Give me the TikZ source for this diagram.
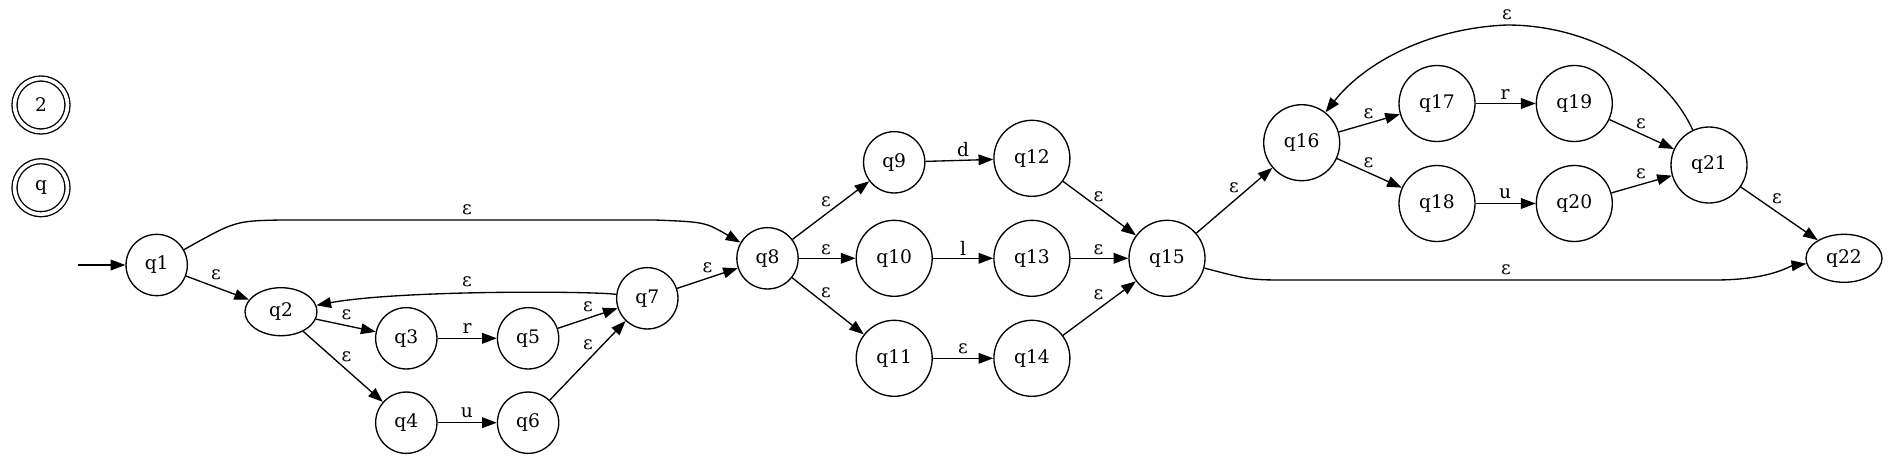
\documentclass[tikz,border=0pt]{standalone}
\usepackage{fontspec}
\setmainfont{DejaVu Serif}
\usetikzlibrary{arrows.meta,shapes.geometric}
\begin{document}
\begin{tikzpicture}[x = 0.75pt, y = -0.75pt,
  every node/.style = {font = \fontsize{14}{16}\selectfont},
  st/.style = {circle, draw = black, line width = 1pt, inner sep = 0pt, minimum size = 46pt},
  bigst/.style = {st, minimum size = 57pt},
  oval/.style = {ellipse, draw = black, line width = 1pt, inner sep = 0pt, minimum width = 54pt, minimum height = 36pt},
  final/.style = {circle, draw = black, line width = 1pt, double, double distance = 2.75pt, inner sep = 0pt, minimum size = 39.75pt},
  trans/.style = {draw = black, line width = 1pt, -{Triangle[length = 11pt, width = 8pt]}},
  lbl/.style = {inner sep = 0pt}]
\fill[white] (0,0) rectangle (1888,458);
\node[final] (f2) at (41,105) {2};
\node[final] (fq) at (41,187.7) {q};
\coordinate (init) at (77.7,265);
\foreach \n/\x/\y in {1/156.7/265, 3/406.3/338.3, 4/406.3/422.7, 5/528.1/338.3, 6/528.1/422.7, 7/647.3/298.3, 8/767.5/258.3, 9/894.2/162.3}
  \node[st] (q\n) at (\x,\y) {q\n};
\foreach \n/\x/\y in {10/894.2/258.3, 11/894.2/358.3, 12/1031.9/158.3, 13/1031.9/258.3, 14/1031.9/358.3, 15/1167/258.3, 16/1301.7/142.7, 17/1437/103.5, 18/1437/203.5, 19/1574.3/103.5, 20/1574.3/203.5, 21/1709/165}
  \node[bigst] (q\n) at (\x,\y) {q\n};
\node[oval] (q2) at (281,311.7) {q2};
\node[oval, minimum width = 57pt] (q22) at (1844,258.3) {q22};
\draw[trans] (init) -- (q1);
\foreach \a/\b/\l/\x/\y in {1/2/ε/216/275, 2/3/ε/346.5/315, 2/4/ε/346.5/356.7, 3/5/r/467/329, 4/6/u/467/413, 5/7/ε/588/306.7, 6/7/ε/588/345, 7/8/ε/707.4/267.3, 8/9/ε/826/201.7, 8/10/ε/826/249.3, 8/11/ε/826/292.7, 9/12/d/963/150, 10/13/l/963/248.3, 11/14/ε/963/348.3, 12/15/ε/1098.5/196.7, 13/15/ε/1098.5/249.3, 14/15/ε/1098.5/295, 15/16/ε/1234/187.3, 16/17/ε/1368.5/113.3, 16/18/ε/1368.5/162.3, 17/19/r/1505/94.3, 18/20/u/1505/194, 19/21/ε/1641/123.3, 20/21/ε/1641/173.3, 21/22/ε/1777/199}
  \draw[trans] (q\a) -- (q\b) node[lbl] (e\a-\b) at (\x,\y) {\l};
\draw[trans] (q1) .. controls (235,221) .. (280,220) -- (655,220) .. controls (705,222) .. (q8) node[lbl] (e1-8) at (467,210) {ε};
\draw[trans] (q7) .. controls (590,291) and (400,290) .. (q2) node[lbl] (e7-2) at (467,281.7) {ε};
\draw[trans] (q15) .. controls (1250,280) .. (1290,280) -- (1715,280) .. controls (1770,280) and (1790,266) .. (q22) node[lbl] (e15-22) at (1506,269.3) {ε};
\draw[trans] (q21) .. controls (1665,70) and (1590,25) .. (1507,25) .. controls (1430,28) and (1365,62) .. (q16) node[lbl] (e21-16) at (1507,15) {ε};
\end{tikzpicture}
\end{document}
